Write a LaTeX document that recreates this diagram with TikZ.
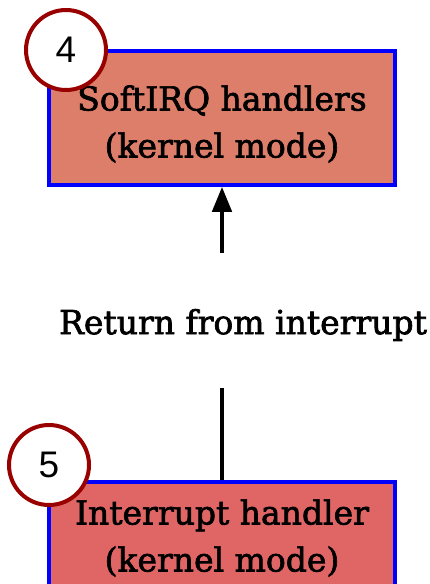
\documentclass[tikz,border=0pt]{standalone}
\usepackage{fontspec}
\setmainfont{DejaVu Serif}
\newfontfamily\lblfont[FakeBold=2]{DejaVu Serif}
\newfontfamily\digitfont{Liberation Sans}
\usetikzlibrary{arrows.meta}
\definecolor{boxblue}{HTML}{0000FF}
\definecolor{fillA}{HTML}{DD7E6B}
\definecolor{fillB}{HTML}{E06666}
\definecolor{ringred}{HTML}{990000}
\tikzset{
  stagebox/.style={draw=boxblue, line width=3.5pt, minimum width=346pt, minimum height=134pt, inner sep=0pt},
  boxtext/.style={align=center, inner sep=0pt, font=\lblfont\fontsize{33}{47}\selectfont},
  numring/.style={circle, draw=ringred, fill=white, line width=4pt, minimum size=80pt, inner sep=0pt, font=\digitfont\fontsize{37}{37}\selectfont},
  conn/.style={line width=4.5pt, black},
}
\begin{document}
\begin{tikzpicture}[x=1pt,y=-1pt]
\useasboundingbox (0,0) rectangle (430,584);
\clip (0,0) rectangle (430,584);
\node[stagebox, fill=fillA] (b4) at (222,118) {};
\node[boxtext] (t4) at (222,124) {SoftIRQ handlers\\(kernel mode)};
\node[stagebox, fill=fillB] (b5) at (222,549) {};
\node[boxtext] (t5) at (222,538) {Interrupt handler\\(kernel mode)};
\node[numring] (c4) at (66,50) {4};
\node[numring] (c5) at (49,465) {5};
\node[boxtext] (lbl) at (243,325) {Return from interrupt};
\coordinate (a1) at (222,253);
\coordinate (a2) at (222,388);
\draw[conn, -{Triangle[width=19pt,length=25pt]}] (a1) -- (b4.south);
\draw[conn] (a2) -- (b5.north);
\end{tikzpicture}
\end{document}
